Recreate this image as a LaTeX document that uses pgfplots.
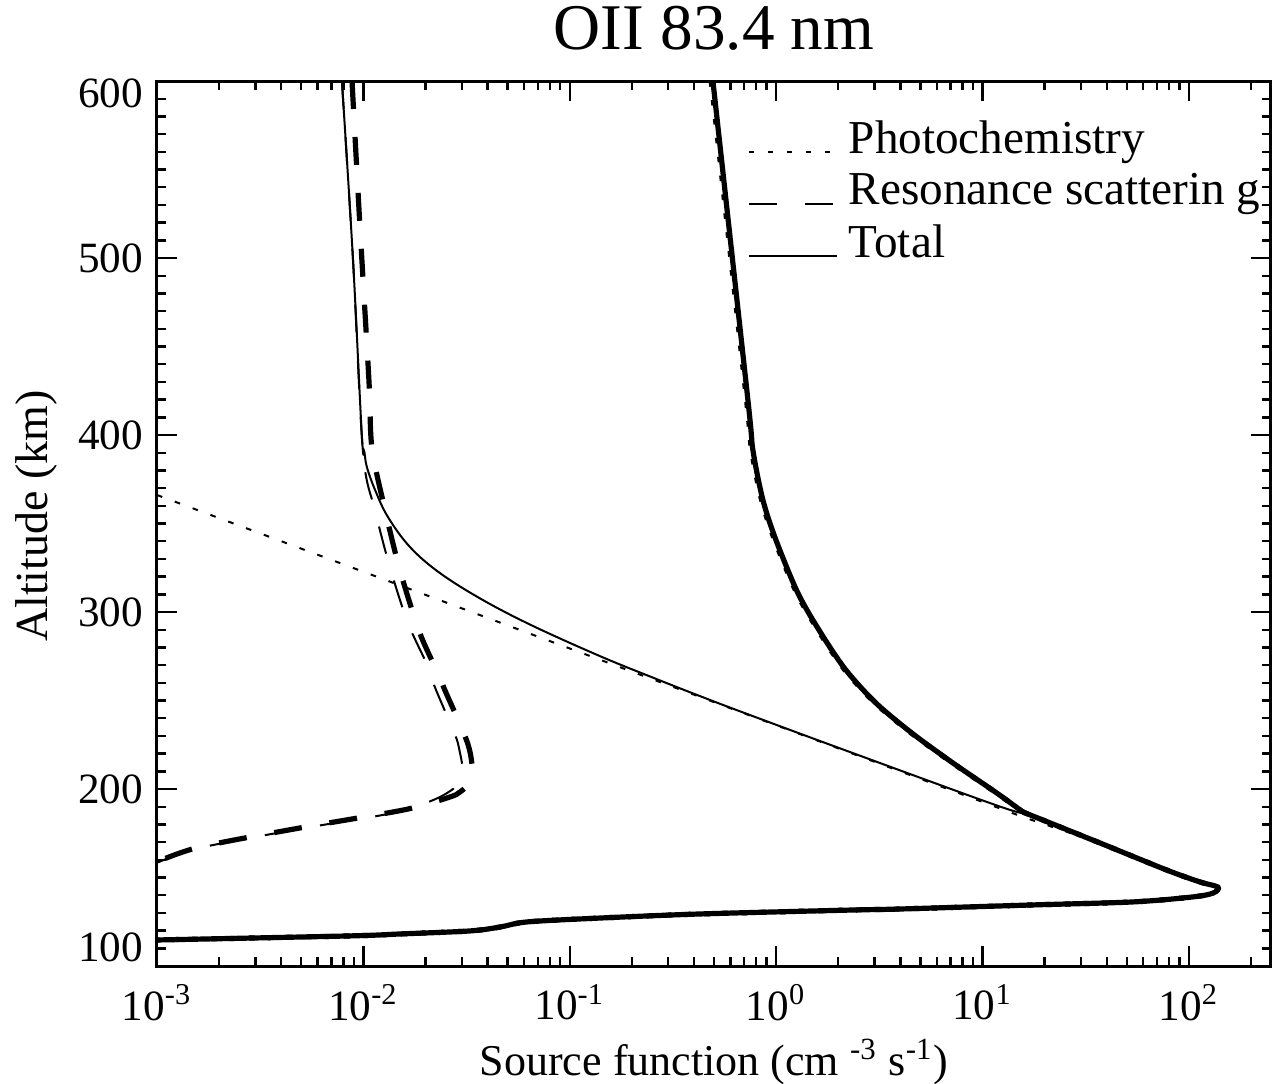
\documentclass[border=0pt]{standalone}
\usepackage{fontspec}
\setmainfont{Liberation Serif}
\usepackage{pgfplots}
\pgfplotsset{compat=1.18}
\begin{document}
\begin{tikzpicture}
\begin{axis}[
  at={(0pt,0pt)}, anchor=south west,
  scale only axis, width=278.5pt, height=221.25pt,
  xmode=log, xmin=1e-3, xmax=250, ymin=100, ymax=600,
  axis line style={line width=0.75pt},
  every tick/.style={black, line width=0.6pt},
  major tick length=5pt, minor tick length=2.3pt,
  xtick={1e-3,1e-2,1e-1,1,10,100},
  xticklabels={10\textsuperscript{-3},10\textsuperscript{-2},10\textsuperscript{-1},10\textsuperscript{0},10\textsuperscript{1},10\textsuperscript{2}},
  minor xtick={2e-3,3e-3,4e-3,5e-3,6e-3,7e-3,8e-3,9e-3,
               2e-2,3e-2,4e-2,5e-2,6e-2,7e-2,8e-2,9e-2,
               0.2,0.3,0.4,0.5,0.6,0.7,0.8,0.9,
               2,3,4,5,6,7,8,9,20,30,40,50,60,70,80,90,200},
  ytick={100,200,300,400,500,600},
  yticklabels={{\raisebox{4.75pt}[\height][\depth]{100}},200,300,400,500,{\raisebox{-3pt}[\height][\depth]{600}}},
  minor y tick num=9,
  tick label style={font=\fontsize{10.8}{13}\selectfont},
  xticklabel style={yshift=-1pt},
  legend style={at={(rel axis cs:0.5296,0.9607)}, anchor=north west, draw=none, fill=none,
    inner sep=0pt, font=\fontsize{11.8}{14}\selectfont, row sep=1.5pt, column sep=1.75pt,
    nodes={inner sep=1pt}},
  legend cell align=left,
  legend image code/.code={\draw[#1] (0pt,-3pt) -- (22pt,-3pt);},
]
% thin photochemistry
\addplot[black, line width=0.5pt, dash pattern=on 1.4pt off 3.35pt] coordinates {
(1e-3,366.1) (15.7,184.2) (37.1,169.5) (78.2,154.2) (113,147.5) (138,144.6) (131,141.2) (104,139)
(53.6,136.2) (17.5,134.5) (3.98,132.2) (2.28,131.6) (0.428,129.4) (0.140,127.1) (0.0621,124.9)
(0.0459,122.0) (0.0328,119.8) (0.01503,118.1) (0.0086,117) (0.001,114.7)};
\addlegendentry{Photochemistry}
% thin resonance scattering
\addplot[black, line width=0.5pt, dash pattern=on 7pt off 7pt, smooth, tension=0.5] coordinates {
(0.00787,600) (0.00891,498.9) (0.00996,390) (0.01138,357.6) (0.01347,325) (0.01644,293.8)
(0.0206,269) (0.0222,257.6) (0.0272,233.3) (0.0290,223.7) (0.0301,206) (0.0235,195.5)
(0.0139,186.5) (0.00493,177.5) (0.00161,166.7) (0.001,158.3)};
\addlegendentry{Resonance scatterin g}
% thin total (upper part)
\addplot[black, line width=0.5pt, smooth, tension=0.6] coordinates {
(0.00787,600) (0.00891,498.9) (0.00984,398.9) (0.01012,390.4) (0.0104,381.9) (0.0114,368.9)
(0.01315,353.7) (0.01683,336.7) (0.0235,322) (0.0379,306.8) (0.0664,292.1) (0.1400,275.1)
(0.2446,263.6) (0.4274,252.5) (0.7465,241.8) (2.279,220.9) (12.14,190.1) (15.7,187)};
\addlegendentry{Total}
% thin total (lower part)
\addplot[black, line width=0.5pt, smooth, tension=0.5, forget plot] coordinates {
(15.7,187) (37.1,169.5) (78.2,154.2)
(113,147.5) (138,144.6) (131,141.2) (104,139) (53.6,136.2) (17.5,134.5) (3.98,132.2)
(2.28,131.6) (0.428,129.4) (0.140,127.1) (0.0621,124.9) (0.0459,122.0) (0.0328,119.8)
(0.01503,118.1) (0.0086,117) (0.001,114.7)};
% thick photochemistry
\addplot[black, line width=1.3pt, dash pattern=on 1.4pt off 3.35pt, smooth, tension=0.5, forget plot] coordinates {
(0.485,600) (0.719,419.8) (0.761,391.5) (0.851,363.3) (0.984,340.7) (1.26,310.7) (1.63,288.1)
(2.156,267.2) (3.02,248.6) (4.52,231.6) (7.16,214.7) (11.71,197.7) (15.68,187)};
\addplot[black, line width=1.3pt, dash pattern=on 1.4pt off 3.35pt, smooth, tension=0.5, forget plot] coordinates {
(15.68,187) (37.1,169.5)
(78.2,154.2) (113,147.5) (138,144.6) (131,141.2) (104,139) (53.6,136.2) (17.5,134.5)
(3.98,132.2) (2.28,131.6) (0.428,129.4) (0.140,127.1) (0.0621,124.9) (0.0459,122.0)
(0.0328,119.8) (0.01503,118.1) (0.0086,117) (0.001,114.7)};
% thick resonance scattering
\addplot[black, line width=1.3pt, dash pattern=on 7pt off 7pt, smooth, tension=0.5, forget plot] coordinates {
(0.00881,600) (0.00963,517.5) (0.01064,431) (0.0110,393) (0.01274,357.6) (0.01503,323.7)
(0.0188,288) (0.0235,263) (0.0248,256) (0.0322,224.9) (0.0336,206) (0.0294,198.3)
(0.0263,195.5) (0.0188,190.4) (0.0139,187) (0.00493,178) (0.00161,167.2) (0.001,158.8)};
% thick total (upper part)
\addplot[black, line width=1.3pt, smooth, tension=0.5, forget plot] coordinates {
(0.494,600) (0.730,419.8) (0.772,391.5) (0.863,363.3) (0.998,340.7) (1.275,310.7) (1.648,288.1)
(2.179,267.2) (3.044,248.6) (4.549,231.6) (7.190,214.7) (11.74,197.7) (15.7,187)};
% thick total (lower part)
\addplot[black, line width=1.3pt, smooth, tension=0.5, forget plot] coordinates {
(15.7,187) (37.1,169.5)
(78.2,154.2) (113,147.5) (138,144.6) (131,141.2) (104,139) (53.6,136.2) (17.5,134.5)
(3.98,132.2) (2.28,131.6) (0.428,129.4) (0.140,127.1) (0.0621,124.9) (0.0459,122.0)
(0.0328,119.8) (0.01503,118.1) (0.0086,117) (0.001,114.7)};
\end{axis}
\node[anchor=base, font=\fontsize{16.3}{19}\selectfont] at (139.25pt,229pt) {OII 83.4 nm};
\node[anchor=base, font=\fontsize{11}{14}\selectfont] at (139.25pt,-27.25pt)
  {Source function (cm \textsuperscript{-3} s\textsuperscript{-1})};
\node[anchor=base, rotate=90, font=\fontsize{11.5}{14}\selectfont] at (-27.25pt,112.5pt) {Altitude (km)};
\pgfresetboundingbox
\path[use as bounding box] (-39.25pt,-29.25pt) rectangle (282.25pt,241.5pt);
\end{tikzpicture}
\end{document}
